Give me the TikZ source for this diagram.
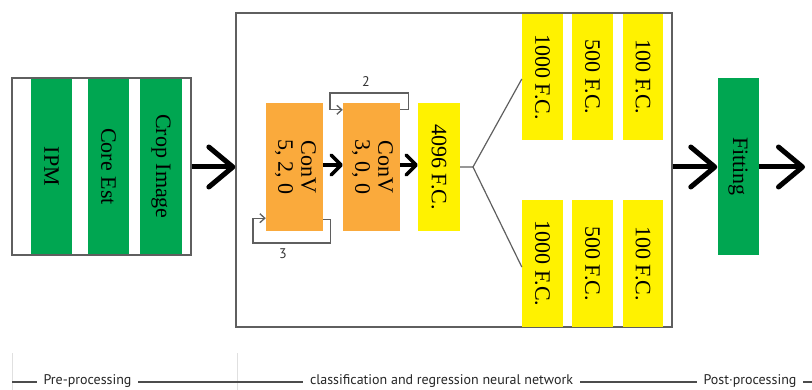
\documentclass[tikz,border=0pt]{standalone}
\usepackage{fontspec}
\setmainfont{Liberation Serif}
\newfontfamily\labfont{PT Sans}
\usetikzlibrary{arrows.meta,calc}
\definecolor{boxgreen}{RGB}{0,166,81}
\definecolor{boxorange}{RGB}{250,170,60}
\definecolor{boxyellow}{RGB}{255,242,0}
\definecolor{frame}{RGB}{95,95,95}
\tikzset{
  blk/.style={draw=none, inner sep=0pt, minimum width=#1},
  gbox/.style={blk=41pt, fill=boxgreen, font=\fontsize{22}{24}\selectfont},
  obox/.style={blk=57pt, fill=boxorange, minimum height=128pt, font=\fontsize{22}{23}\selectfont},
  ybox/.style={blk=41pt, fill=boxyellow, font=\fontsize{22}{24}\selectfont},
  framebox/.style={draw=frame, line width=1.3pt, inner sep=0pt, fill=none},
  bigarrow/.style={line width=5pt, -{Straight Barb[length=24pt,width=40pt,round]}},
  midarrow/.style={line width=3.5pt, -{Straight Barb[length=10pt,width=20pt,round]}},
  looparrow/.style={draw=frame, line width=1.3pt, -{Straight Barb[length=5pt,width=9pt]}},
  branch/.style={draw=frame, line width=1.2pt},
  smalllab/.style={font=\labfont\fontsize{14}{15}\selectfont, text=black!80},
  phase/.style={font=\labfont\fontsize{14}{16}\selectfont, fill=white, inner xsep=7pt, inner ysep=1pt, text=black!85},
}
\begin{document}
\begin{tikzpicture}[x=1pt, y=-1pt]
\useasboundingbox (0,0) rectangle (812,390);
% pre-processing block
\node[gbox, minimum height=177pt] (ipm) at (51.5,166.5) {\rotatebox{-90}{IPM}};
\node[gbox, minimum height=177pt] (core) at (108.5,166.5) {\rotatebox{-90}{Core Est}};
\node[gbox, minimum height=177pt, minimum width=42pt] (crop) at (161,166.5) {\rotatebox{-90}{Crop Image}};
\node[framebox, minimum width=179pt, minimum height=177pt] (lb) at (101.5,166.5) {};
% network block
\node[framebox, minimum width=436pt, minimum height=314pt] (mb) at (454,170) {};
\node[obox] (c1) at (294.5,167) {\rotatebox{-90}{\begin{tabular}{@{}c@{}}ConV\\5, 2, 0\end{tabular}}};
\node[obox] (c2) at (371.5,167) {\rotatebox{-90}{\begin{tabular}{@{}c@{}}ConV\\3, 0, 0\end{tabular}}};
\node[ybox, minimum width=42pt, minimum height=128pt] (fc) at (439,167) {\rotatebox{-90}{4096 F.C.}};
\node[ybox, minimum height=126pt] (a1) at (542.5,77) {\rotatebox{-90}{1000 F.C.}};
\node[ybox, minimum height=126pt] (a2) at (592.5,77) {\rotatebox{-90}{500 F.C.}};
\node[ybox, minimum height=126pt, minimum width=40pt] (a3) at (643,77) {\rotatebox{-90}{100 F.C.}};
\node[ybox, minimum height=127pt] (b1) at (542.5,263.5) {\rotatebox{-90}{1000 F.C.}};
\node[ybox, minimum height=127pt] (b2) at (592.5,263.5) {\rotatebox{-90}{500 F.C.}};
\node[ybox, minimum height=127pt, minimum width=40pt] (b3) at (643,263.5) {\rotatebox{-90}{100 F.C.}};
% post-processing
\node[gbox, minimum height=177pt] (fit) at (738,166.5) {\rotatebox{-90}{Fitting}};
\coordinate (out) at (805,167);
% main arrows
\draw[bigarrow] (lb.east |- 0,167) -- (mb.west |- 0,167);
\draw[bigarrow] (mb.east |- 0,167) -- (fit.west |- 0,167);
\draw[bigarrow] (fit.east |- 0,167) -- (out);
% inner arrows
\draw[midarrow] (c1.east |- 0,165) -- (c2.west |- 0,165);
\draw[midarrow] (c2.east |- 0,165) -- (fc.west |- 0,165);
% loops
\draw[looparrow] ($(c2.north east)+(0,7)$) -- ++(8,0) |- (330,93) |- ($(c2.north west)+(0,7)$);
\node[smalllab] (l2) at (366,82) {2};
\draw[looparrow] ($(c1.south east)+(0,-12)$) -- ++(7,0) |- (253,243) |- ($(c1.south west)+(0,-13)$);
\node[smalllab] (l3) at (283,254) {3};
% branches
\coordinate (j) at (473,167);
\draw[branch] (fc.east |- 0,167) -- (j) -- (a1.west |- 0,79);
\draw[branch] (j) -- (b1.west |- 0,267);
% bottom phase line
\draw[black!12, line width=0.8pt] (12,353) -- (12,390);
\draw[black!12, line width=0.8pt] (237,353) -- (237,390);
\coordinate (p0) at (12,382);
\coordinate (p1) at (812,382);
\draw[black!70, line width=1.3pt] (p0) -- (p1);
\node[phase] (pre) at (87.5,381) {Pre-processing};
\node[phase] (cls) at (441.5,381) {classification and regression neural network};
\node[phase] (post) at (750,381) {Post·processing};
\end{tikzpicture}
\end{document}
